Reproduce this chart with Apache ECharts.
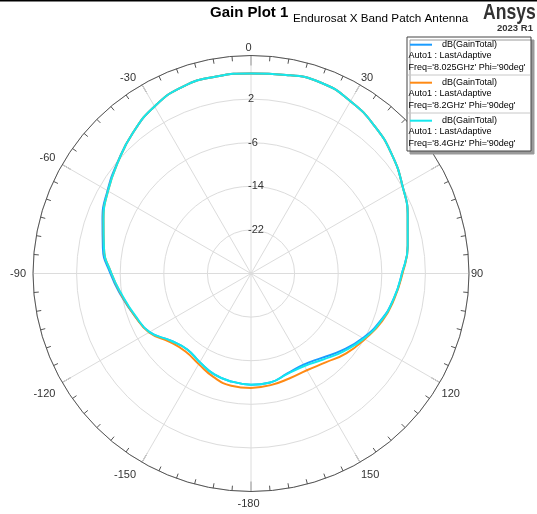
<!DOCTYPE html>
<html>
<head>
<meta charset="utf-8">
<script src="https://cdn.jsdelivr.net/npm/echarts@6/dist/echarts.min.js"></script>
<style>html,body{margin:0;padding:0;background:#fff;}#c{width:537px;height:514px;}</style>
</head>
<body>
<div id="c"></div>
<script>
// Angles (deg), -180..180 step 10
const angles = [-180,-170,-160,-150,-140,-130,-120,-110,-100,-90,-80,-70,-60,-50,-40,-30,-20,-10,0,10,20,30,40,50,60,70,80,90,100,110,120,130,140,150,160,170,180];
// dB(GainTotal) Freq='8.025GHz'
const gain8025 = [-9.6,-9.85,-10.3,-11.2,-11.8,-10.8,-8.5,-7.3,-5.9,-4.2,-2.4,-1.0,0.4,1.9,3.7,5.4,6.5,6.7,6.7,7.0,7.3,6.5,5.3,3.8,2.1,0.6,-0.8,-2.3,-3.4,-4.7,-6.3,-8.1,-9.8,-10.7,-10.5,-9.7,-9.6];
// dB(GainTotal) Freq='8.2GHz'
const gain82 = [-9.0,-9.1,-9.8,-10.8,-11.3,-10.5,-8.4,-7.3,-6.0,-4.4,-2.6,-1.2,0.3,1.85,3.7,5.4,6.5,6.7,6.7,7.0,7.3,6.5,5.3,3.8,2.1,0.6,-0.8,-2.2,-3.3,-4.4,-5.9,-7.2,-8.7,-9.5,-9.5,-9.2,-9.0];
// dB(GainTotal) Freq='8.4GHz'
const gain84 = [-9.6,-9.85,-10.3,-11.2,-11.8,-10.8,-8.5,-7.4,-6.1,-4.4,-2.6,-1.2,0.3,1.85,3.7,5.4,6.5,6.7,6.7,7.0,7.3,6.5,5.3,3.8,2.1,0.6,-0.8,-2.3,-3.4,-4.6,-6.1,-7.8,-9.4,-10.4,-10.4,-9.7,-9.6];

const seriesNames = ["dB(GainTotal)","dB(GainTotal)","dB(GainTotal)"];
const seriesFreqs = ["Freq='8.025GHz' Phi='90deg'","Freq='8.2GHz' Phi='90deg'","Freq='8.4GHz' Phi='90deg'"];
const seriesColors = ["#1A9CFF","#FF8A14","#14E8EE"];
const radiusTicks = [-30,-22,-14,-6,2,10];
const hiddenAngleLabels = [60, 360];

const FONT = "Liberation Sans, Arial, sans-serif";
const toData = arr => arr.map((v,i)=>[v, angles[i] < 0 ? angles[i] + 360 : angles[i]]);

const chart = echarts.init(document.getElementById('c'), null, {renderer:'canvas'});

const legendX = 407, legendY = 37, legendW = 124, legendH = 114;
const entryH = 38;
const graphics = [
  {type:'rect', shape:{x:0,y:0,width:537,height:1.5}, style:{fill:'#000'}, silent:true},
  {type:'text', left:210, top:5, style:{text:'Gain Plot 1', font:'bold 15px '+FONT, fill:'#000'}},
  {type:'text', x:293, y:18.5, scaleX:1.065, style:{text:'Endurosat X Band Patch Antenna', font:'11px '+FONT, fill:'#000', verticalAlign:'middle'}},
  {type:'text', x:483, y:2, scaleX:0.8, style:{text:'Ansys', font:'bold 22px '+FONT, fill:'#333'}},
  {type:'text', x:497, y:23, style:{text:'2023 R1', font:'bold 9.5px '+FONT, fill:'#333'}},
  {type:'rect', shape:{x:legendX,y:legendY,width:legendW,height:legendH}, style:{fill:'#fff', stroke:'#444', lineWidth:1, shadowColor:'#9a9a9a', shadowOffsetX:3, shadowOffsetY:3, shadowBlur:0}, z:100}
];
for (let i=0;i<3;i++){
  const y0 = legendY + i*entryH;
  if (i>0) graphics.push({type:'line', shape:{x1:legendX+1,y1:y0,x2:legendX+legendW-1,y2:y0}, style:{stroke:'#c8c8c8', lineWidth:1}, z:101});
  graphics.push({type:'line', shape:{x1:410,y1:y0+7.7,x2:432,y2:y0+7.7}, style:{stroke:seriesColors[i], lineWidth:2}, z:101});
  graphics.push({type:'text', x:442, y:y0+7.7, style:{text:seriesNames[i], font:'9px '+FONT, fill:'#000', verticalAlign:'middle'}, z:101});
  graphics.push({type:'text', x:408.5, y:y0+18.7, style:{text:'Auto1 : LastAdaptive', font:'9px '+FONT, fill:'#000', verticalAlign:'middle'}, z:101});
  graphics.push({type:'text', x:408.5, y:y0+30.3, style:{text:seriesFreqs[i], font:'9px '+FONT, fill:'#000', verticalAlign:'middle'}, z:101});
}

const option = {
  animation:false,
  backgroundColor:'#fff',
  polar:{center:[251,273.5], radius:218},
  angleAxis:{
    type:'value', min:0, max:360, interval:30, startAngle:90, clockwise:true,
    axisLine:{lineStyle:{color:'#555', width:1}},
    axisTick:{show:true, inside:true, length:10, lineStyle:{color:'#555'}},
    minorTick:{show:true, splitNumber:6, length:5, lineStyle:{color:'#555'}},
    splitLine:{show:true, lineStyle:{color:'#dcdcdc', width:1}},
    axisLabel:{margin:2, color:'#333', fontSize:11, fontFamily:FONT, padding:[5,5,0,0],
      formatter:v=>{ if (hiddenAngleLabels.includes(v)) return ''; if (v===180) return '-180'; return String(v>180? v-360 : v); }}
  },
  radiusAxis:{
    type:'value', min:radiusTicks[0], max:radiusTicks[radiusTicks.length-1], interval:8,
    axisLine:{show:false}, axisTick:{show:false},
    splitLine:{show:true, lineStyle:{color:'#dcdcdc', width:1}},
    axisLabel:{color:'#333', fontSize:11, fontFamily:FONT, margin:3, align:'left', verticalAlign:'middle',
      formatter:v=> (v===radiusTicks[0] || v===radiusTicks[radiusTicks.length-1]) ? '' : String(v)}
  },
  series:[
    {type:'line', coordinateSystem:'polar', data:toData(gain8025), smooth:true, showSymbol:false, symbol:'none', lineStyle:{color:seriesColors[0], width:2}, z:2},
    {type:'line', coordinateSystem:'polar', data:toData(gain82), smooth:true, showSymbol:false, symbol:'none', lineStyle:{color:seriesColors[1], width:2}, z:3},
    {type:'line', coordinateSystem:'polar', data:toData(gain84), smooth:true, showSymbol:false, symbol:'none', lineStyle:{color:seriesColors[2], width:2}, z:4}
  ],
  graphic:graphics
};
chart.setOption(option);
</script>
</body>
</html>
